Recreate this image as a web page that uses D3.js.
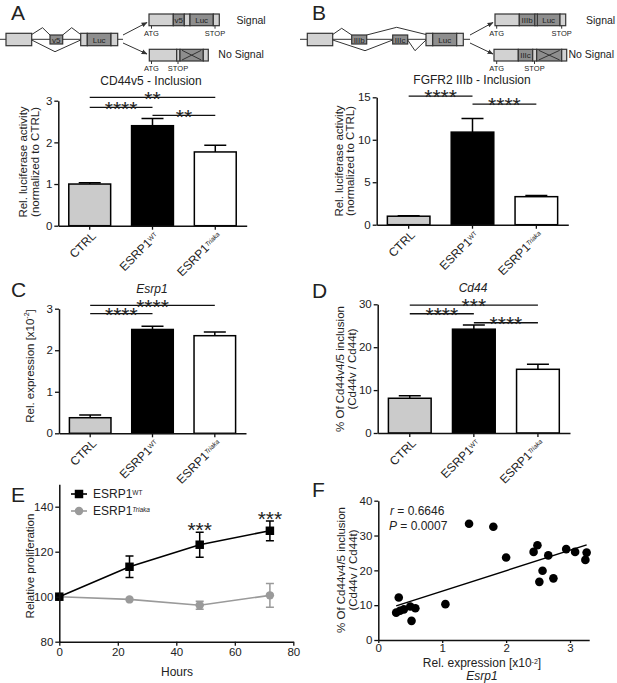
<!DOCTYPE html>
<html>
<head>
<meta charset="utf-8">
<script src="https://cdn.jsdelivr.net/npm/d3@7"></script>
<style>
  body { margin: 0; background: #fff; }
  svg text { font-family: "Liberation Sans", Arial, sans-serif; fill: #222; }
</style>
</head>
<body>
<svg id="fig" width="617" height="683"></svg>
<script>
// ---- data ----
const groups = ["CTRL", "ESRP1WT", "ESRP1Triaka"];
const groupBase = ["CTRL", "ESRP1", "ESRP1"];
const groupSup = ["", "WT", "Triaka"];
const barColors = ["#cbcbcb", "#000000", "#ffffff"];

// A: CD44v5 - Inclusion (luciferase)
const cd44Lucif = [1.0, 2.4, 1.77];
const cd44LucifErr = [0.03, 0.17, 0.16];
const cd44LucifSig = [[0, 1, "****", 2.84], [0, 2, "**", 3.08], [1, 2, "**", 2.65]];

// B: FGFR2 IIIb - Inclusion (luciferase)
const fgfrLucif = [1.0, 10.9, 3.3];
const fgfrLucifErr = [0.06, 1.6, 0.15];
const fgfrLucifSig = [[0, 1, "****", 15.15], [1, 2, "****", 14.2]];

// C: Esrp1 expression
const esrp1Expr = [0.375, 2.5, 2.35];
const esrp1ExprErr = [0.065, 0.08, 0.09];
const esrp1ExprSig = [[0, 1, "****", 2.88], [0, 2, "****", 3.08]];

// D: Cd44 v4/5 inclusion
const cd44Incl = [8.1, 24.2, 14.85];
const cd44InclErr = [0.6, 1.0, 1.15];
const cd44InclSig = [[0, 1, "****", 27.8], [0, 2, "***", 29.8], [1, 2, "****", 25.7]];

// E: proliferation
const hours = [0, 24, 48, 72];
const wtProlif = [100, 113.3, 123.1, 129.3];
const wtProlifErr = [0, 4.8, 5.6, 4.4];
const triakaProlif = [100, 98.8, 96.2, 100.6];
const triakaProlifErr = [0, 0, 1.8, 5.3];
const prolifSig = ["", "", "***", "***"];

// F: correlation
const esrp1X = [0.28, 0.32, 0.34, 0.40, 0.50, 0.52, 0.58, 1.05, 1.42, 1.80, 2.00, 2.43, 2.49, 2.52, 2.57, 2.66, 2.74, 2.94, 3.08, 3.24, 3.26];
const cd44Y = [7.85, 12.2, 8.4, 8.8, 9.6, 5.5, 9.1, 10.3, 33.4, 32.5, 23.7, 25.3, 27.2, 16.7, 19.9, 24.3, 17.7, 26.1, 25.3, 23.0, 25.1];
const fitSlope = 5.88, fitIntercept = 8.15;

const svg = d3.select("#fig");
const intFmt = d3.format("d");

svg.append("defs").append("marker")
  .attr("id", "arr").attr("viewBox", "0 0 10 10").attr("refX", 9).attr("refY", 5)
  .attr("markerWidth", 6).attr("markerHeight", 6).attr("orient", "auto")
  .append("path").attr("d", "M0,1 L10,5 L0,9 Z").attr("fill", "#333");

function styleAxis(a) {
  a.select(".domain").attr("stroke", "#111").attr("stroke-width", 1.5);
  a.selectAll(".tick line").attr("stroke", "#111").attr("stroke-width", 1.3);
  a.selectAll(".tick text").attr("font-size", 11.5).attr("fill", "#333")
    .attr("font-family", "'Liberation Sans', Arial, sans-serif");
}

function panelLetter(t, x, y) {
  svg.append("text").attr("x", x).attr("y", y).attr("font-size", 21).text(t);
}

function yTitle(lines, xs, cy) {
  lines.forEach((l, i) => {
    const t = svg.append("text").attr("transform", `translate(${xs[i]},${cy}) rotate(-90)`)
      .attr("text-anchor", "middle").attr("dominant-baseline", "middle").attr("font-size", 11.5);
    l.forEach(p => {
      const s = t.append("tspan").text(p.t);
      if (p.sup) s.attr("font-size", 7).attr("baseline-shift", "super");
      if (p.it) s.attr("font-style", "italic");
    });
  });
}

function stars(g, x, yBottom, label, size) {
  g.append("text").attr("x", x).attr("y", yBottom + size * 0.42)
    .attr("text-anchor", "middle").attr("font-size", size).attr("fill", "#111").text(label);
}

function barPanel(cfg) {
  const g = svg.append("g");
  const x = d3.scaleBand().domain(groups).range([cfg.left, cfg.right])
    .paddingInner(0.333).paddingOuter(0.167);
  const y = d3.scaleLinear().domain([0, cfg.ymax]).range([cfg.bottom, cfg.top]);
  const cx = i => x(groups[i]) + x.bandwidth() / 2;

  g.selectAll(".err").data(cfg.values).join("path")
    .attr("d", (d, i) => {
      const t = y(d + cfg.errs[i]);
      return `M${cx(i)},${y(d)}V${t}M${cx(i) - 11},${t}H${cx(i) + 11}`;
    })
    .attr("stroke", "#000").attr("stroke-width", 1.5).attr("fill", "none");

  g.selectAll(".bar").data(cfg.values).join("rect")
    .attr("x", (d, i) => x(groups[i])).attr("y", d => y(d))
    .attr("width", x.bandwidth()).attr("height", d => y(0) - y(d))
    .attr("fill", (d, i) => barColors[i]).attr("stroke", "#000").attr("stroke-width", 1.5);

  const ya = g.append("g").attr("transform", `translate(${cfg.left},0)`)
    .call(d3.axisLeft(y).tickValues(cfg.ticks).tickFormat(intFmt).tickSize(4).tickSizeOuter(0).tickPadding(2));
  styleAxis(ya);
  const xa = g.append("g").attr("transform", `translate(0,${cfg.bottom})`)
    .call(d3.axisBottom(x).tickSize(4).tickSizeOuter(0).tickFormat(""));
  styleAxis(xa);

  groups.forEach((k, i) => {
    const t = g.append("text").attr("transform", `translate(${cx(i) + 7},${cfg.bottom + 11}) rotate(-45)`)
      .attr("text-anchor", "end").attr("font-size", 12);
    t.append("tspan").text(groupBase[i]);
    if (groupSup[i]) {
      t.append("tspan").text(groupSup[i]).attr("font-size", 6.5).attr("baseline-shift", "super")
        .attr("font-style", i === 2 ? "italic" : "normal");
    }
  });

  cfg.sig.forEach(s => {
    const ly = y(s[3]);
    g.append("line").attr("x1", cx(s[0])).attr("x2", cx(s[1])).attr("y1", ly).attr("y2", ly)
      .attr("stroke", "#111").attr("stroke-width", 1.3);
    stars(g, (cx(s[0]) + cx(s[1])) / 2, ly - 0.5, s[2], 21);
  });

  svg.append("text").attr("x", cfg.titleX).attr("y", cfg.titleY).attr("text-anchor", "middle")
    .attr("font-size", 12).attr("font-style", cfg.titleItalic ? "italic" : "normal").text(cfg.title);
}

// ---- gene diagrams ----
const LIGHT = "#d2d2d2", DARK = "#8e8e8e", LINE = "#333";
function geneBox(x, y, h, segs) {
  let cx = x;
  segs.forEach(s => {
    svg.append("rect").attr("x", cx).attr("y", y).attr("width", s.w).attr("height", h)
      .attr("fill", s.dark ? DARK : LIGHT).attr("stroke", LINE).attr("stroke-width", 1.2);
    if (s.label) {
      svg.append("text").attr("x", cx + s.w / 2).attr("y", y + h / 2 + 3).attr("text-anchor", "middle")
        .attr("font-size", 8).attr("fill", "#3a3a3a").text(s.label);
    }
    if (s.cross) {
      svg.append("path").attr("d", `M${cx + 2},${y + 1}L${cx + s.w - 2},${y + h - 1}M${cx + 2},${y + h - 1}L${cx + s.w - 2},${y + 1}`)
        .attr("stroke", LINE).attr("stroke-width", 1).attr("fill", "none");
    }
    cx += s.w;
  });
}
function path(d) {
  svg.append("path").attr("d", d).attr("stroke", LINE).attr("stroke-width", 1).attr("fill", "none");
}
function mark(x, y, label) {
  path(`M${x},${y}V${y + 3}`);
  svg.append("text").attr("x", x).attr("y", y + 10).attr("text-anchor", "middle").attr("font-size", 7.5)
    .attr("fill", "#333").text(label);
}
function sideLabel(x, y, t) {
  svg.append("text").attr("x", x).attr("y", y + 4).attr("font-size", 10.5).text(t);
}

// diagram A
path("M0,39.3H123");
geneBox(6, 33.3, 12.4, [{ w: 25.7 }]);
geneBox(50, 35, 9, [{ w: 12.7, dark: true, label: "v5" }]);
geneBox(80.7, 33.3, 12.4, [{ w: 6.6 }, { w: 23.7, dark: true, label: "Luc" }, { w: 6.7 }]);
path("M31.7,34.5L42.5,27.7L50,35");
path("M62.7,35L71.7,27.7L80.7,34.5");
path("M31.7,40L55,51.7L80.7,40");
svg.append("path").attr("d", "M123,35L147,22.5").attr("stroke", LINE).attr("marker-end", "url(#arr)");
svg.append("path").attr("d", "M123,43L147,54").attr("stroke", LINE).attr("marker-end", "url(#arr)");
geneBox(149, 14, 11.7, [{ w: 24.3 }, { w: 11, dark: true, label: "v5" }, { w: 5.7 }, { w: 23.3, dark: true, label: "Luc" }, { w: 6 }]);
mark(151.5, 25.7, "ATG"); mark(215, 25.7, "STOP");
sideLabel(236.5, 19.5, "Signal");
geneBox(149.3, 49.3, 11.7, [{ w: 27.4 }, { w: 3.3 }, { w: 23.3, dark: true, cross: true }, { w: 5 }]);
mark(151.5, 61, "ATG"); mark(178, 61, "STOP");
sideLabel(218.3, 54, "No Signal");

// diagram B
path("M300,39.3H470");
geneBox(307.3, 33.3, 12.4, [{ w: 25.4 }]);
geneBox(351.7, 35, 9, [{ w: 15, dark: true, label: "IIIb" }]);
geneBox(392.7, 35, 9, [{ w: 15, dark: true, label: "IIIc" }]);
geneBox(426, 33.3, 12.4, [{ w: 6.7 }, { w: 24, dark: true, label: "Luc" }, { w: 6.6 }]);
path("M332.7,34.5L341.7,28.3L351.7,35");
path("M366.7,35L396.7,27.3L426,34.5");
path("M332.7,40L365,50.7L392.7,40");
path("M407.7,40L415,50.7L426,40");
svg.append("path").attr("d", "M470,35L493,22.5").attr("stroke", LINE).attr("marker-end", "url(#arr)");
svg.append("path").attr("d", "M470,43L493,54").attr("stroke", LINE).attr("marker-end", "url(#arr)");
geneBox(495, 14, 11.7, [{ w: 24.3 }, { w: 15.7, dark: true, label: "IIIb" }, { w: 2.3 }, { w: 22.7, dark: true, label: "Luc" }, { w: 5.7 }]);
mark(496.7, 25.7, "ATG"); mark(561.7, 25.7, "STOP");
sideLabel(586, 19.5, "Signal");
geneBox(494, 49.3, 11.7, [{ w: 24.3 }, { w: 14.4, dark: true, label: "IIIc" }, { w: 4 }, { w: 25, dark: true, cross: true }, { w: 5 }]);
mark(496.7, 61, "ATG"); mark(534.5, 61, "STOP");
sideLabel(568.5, 54, "No Signal");

// ---- panels A-D ----
panelLetter("A", 11, 20);
barPanel({ left: 58.3, right: 246.7, top: 100.7, bottom: 225.7, ymax: 3, ticks: [0, 1, 2, 3],
  values: cd44Lucif, errs: cd44LucifErr, sig: cd44LucifSig,
  title: "CD44v5 - Inclusion", titleX: 151, titleY: 85 });
yTitle([[{ t: "Rel. luciferase activity" }], [{ t: "(normalized to CTRL)" }]], [24, 36], 162);

panelLetter("B", 312, 20);
barPanel({ left: 376.7, right: 568.3, top: 97.3, bottom: 224.7, ymax: 15, ticks: [0, 5, 10, 15],
  values: fgfrLucif, errs: fgfrLucifErr, sig: fgfrLucifSig,
  title: "FGFR2 IIIb - Inclusion", titleX: 472, titleY: 84 });
yTitle([[{ t: "Rel. luciferase activity" }], [{ t: "(normalized to CTRL)" }]], [339.5, 351], 161);

panelLetter("C", 11, 297);
barPanel({ left: 59, right: 246, top: 308.7, bottom: 433.3, ymax: 3, ticks: [0, 1, 2, 3],
  values: esrp1Expr, errs: esrp1ExprErr, sig: esrp1ExprSig,
  title: "Esrp1", titleItalic: true, titleX: 152, titleY: 293 });
yTitle([[{ t: "Rel. expression [x10" }, { t: "-2", sup: true }, { t: "]" }]], [31], 366);

panelLetter("D", 312, 298);
barPanel({ left: 377.7, right: 570, top: 304.3, bottom: 433, ymax: 30, ticks: [0, 10, 20, 30],
  values: cd44Incl, errs: cd44InclErr, sig: cd44InclSig,
  title: "Cd44", titleItalic: true, titleX: 473, titleY: 292 });
yTitle([[{ t: "% Of Cd44v4/5 inclusion" }], [{ t: "(Cd44v / Cd44t)" }]], [340.5, 353], 369);

// ---- panel E ----
panelLetter("E", 11, 502);
{
  const g = svg.append("g");
  const x = d3.scaleLinear().domain([0, 80]).range([59.3, 293.3]);
  const y = d3.scaleLinear().domain([80, 150]).range([641.7, 484.2]);
  const series = [
    { v: triakaProlif, e: triakaProlifErr, c: "#9a9a9a", shape: "circle" },
    { v: wtProlif, e: wtProlifErr, c: "#000", shape: "square" }
  ];
  series.forEach(s => {
    const pts = hours.map((h, i) => ({ h, v: s.v[i], e: s.e[i] }));
    g.append("path").datum(pts)
      .attr("d", d3.line().x(p => x(p.h)).y(p => y(p.v)))
      .attr("fill", "none").attr("stroke", s.c).attr("stroke-width", 1.6);
    g.selectAll(null).data(pts.filter(p => p.e > 0)).join("path")
      .attr("d", p => {
        const lo = y(p.v - p.e), hi = y(p.v + p.e), xx = x(p.h);
        return `M${xx},${lo}V${hi}M${xx - 4},${lo}H${xx + 4}M${xx - 4},${hi}H${xx + 4}`;
      })
      .attr("stroke", s.c).attr("stroke-width", 1.5).attr("fill", "none");
    const sym = d3.symbol().type(s.shape === "square" ? d3.symbolSquare : d3.symbolCircle)
      .size(s.shape === "square" ? 72 : 56);
    g.selectAll(null).data(pts).join("path")
      .attr("transform", p => `translate(${x(p.h)},${y(p.v)})`)
      .attr("d", sym).attr("fill", s.c);
  });
  hours.forEach((h, i) => {
    if (prolifSig[i]) stars(g, x(h), y(wtProlif[i] + wtProlifErr[i]) - 4, prolifSig[i], 21);
  });
  const ya = g.append("g").attr("transform", `translate(${x(0)},0)`)
    .call(d3.axisLeft(y).tickValues([80, 100, 120, 140]).tickFormat(intFmt).tickSize(4).tickSizeOuter(0).tickPadding(2));
  styleAxis(ya);
  const xa = g.append("g").attr("transform", `translate(0,${y(80)})`)
    .call(d3.axisBottom(x).tickValues([0, 20, 40, 60, 80]).tickFormat(intFmt).tickSize(4).tickSizeOuter(0).tickPadding(2));
  styleAxis(xa);
  svg.append("text").attr("x", 177).attr("y", 676).attr("text-anchor", "middle").attr("font-size", 12).text("Hours");
  yTitle([[{ t: "Relative proliferation" }]], [31], 566);

  // legend
  const leg = [{ c: "#000", sym: d3.symbolSquare, size: 72, sup: "WT", it: false, yy: 494 },
               { c: "#9a9a9a", sym: d3.symbolCircle, size: 56, sup: "Triaka", it: true, yy: 511 }];
  leg.forEach(l => {
    g.append("line").attr("x1", 71).attr("x2", 87).attr("y1", l.yy).attr("y2", l.yy)
      .attr("stroke", l.c).attr("stroke-width", 1.6);
    g.append("path").attr("transform", `translate(79,${l.yy})`).attr("d", d3.symbol().type(l.sym).size(l.size)()).attr("fill", l.c);
    const t = g.append("text").attr("x", 93).attr("y", l.yy + 4).attr("font-size", 12);
    t.append("tspan").text("ESRP1");
    t.append("tspan").text(l.sup).attr("font-size", 6.5).attr("baseline-shift", "super")
      .attr("font-style", l.it ? "italic" : "normal");
  });
}

// ---- panel F ----
panelLetter("F", 312, 497);
{
  const g = svg.append("g");
  const x = d3.scaleLinear().domain([0, 3.3]).range([378.3, 589.2]);
  const y = d3.scaleLinear().domain([0, 40]).range([640, 500.7]);
  const ya = g.append("g").attr("transform", `translate(${x(0)},0)`)
    .call(d3.axisLeft(y).tickValues([0, 10, 20, 30, 40]).tickFormat(intFmt).tickSize(4).tickSizeOuter(0).tickPadding(2));
  styleAxis(ya);
  const xa = g.append("g").attr("transform", `translate(0,${y(0)})`)
    .call(d3.axisBottom(x).tickValues([0, 1, 2, 3]).tickFormat(intFmt).tickSize(3).tickSizeOuter(0).tickPadding(1));
  styleAxis(xa);
  const x0 = d3.min(esrp1X), x1 = d3.max(esrp1X);
  g.append("line").attr("x1", x(x0)).attr("x2", x(x1))
    .attr("y1", y(fitIntercept + fitSlope * x0)).attr("y2", y(fitIntercept + fitSlope * x1))
    .attr("stroke", "#000").attr("stroke-width", 1.5);
  g.selectAll(".pt").data(esrp1X).join("circle")
    .attr("cx", d => x(d)).attr("cy", (d, i) => y(cd44Y[i])).attr("r", 4.3).attr("fill", "#000");

  const r1 = g.append("text").attr("x", 390).attr("y", 515).attr("font-size", 12);
  r1.append("tspan").text("r").attr("font-style", "italic");
  r1.append("tspan").text(" = 0.6646");
  const r2 = g.append("text").attr("x", 389).attr("y", 530).attr("font-size", 12);
  r2.append("tspan").text("P").attr("font-style", "italic");
  r2.append("tspan").text(" = 0.0007");

  const xl = svg.append("text").attr("x", 482).attr("y", 667).attr("text-anchor", "middle").attr("font-size", 12);
  xl.append("tspan").text("Rel. expression [x10");
  xl.append("tspan").text("-2").attr("font-size", 7).attr("baseline-shift", "super");
  xl.append("tspan").text("]");
  svg.append("text").attr("x", 482).attr("y", 680).attr("text-anchor", "middle").attr("font-size", 12)
    .attr("font-style", "italic").text("Esrp1");
  yTitle([[{ t: "% Of Cd44v4/5 inclusion" }], [{ t: "(Cd44v / Cd44t)" }]], [341.5, 353.5], 570);
}
</script>
</body>
</html>
